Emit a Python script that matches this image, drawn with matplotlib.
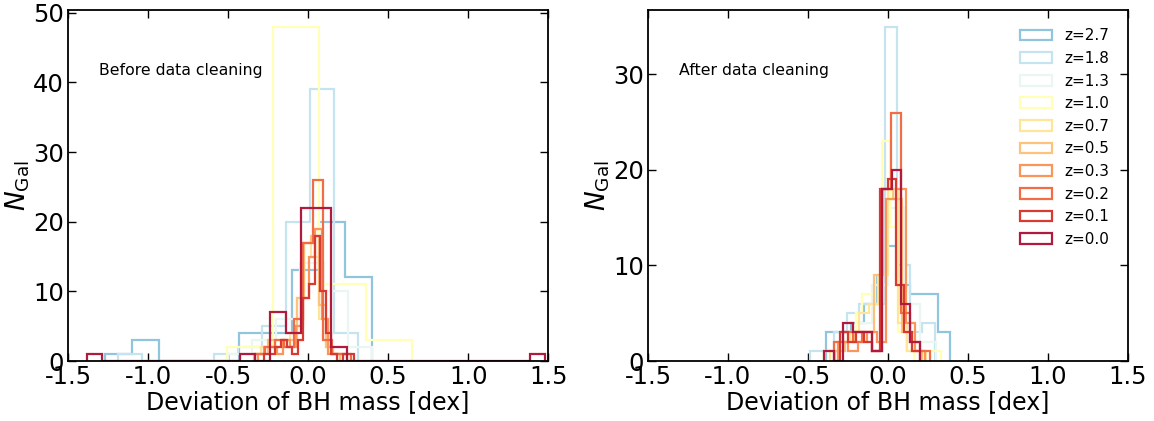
import numpy as np
import matplotlib
matplotlib.use("Agg")
import matplotlib.pyplot as plt

redshift_labels = ["z=2.7", "z=1.8", "z=1.3", "z=1.0", "z=0.7", "z=0.5", "z=0.3", "z=0.2", "z=0.1", "z=0.0"]
line_colors = ["#91c5de", "#c6e4f0", "#eaf6f2", "#ffffb8", "#fee59a", "#fdc37c", "#fc955a",
               "#f26c45", "#d73a30", "#b01a3c"]

# ---- before cleaning: bin edges and counts per redshift ----
before_z27_edges = [-1.27, -1.10, -0.93, -0.77, -0.60, -0.43, -0.27, -0.10, 0.07, 0.23, 0.40]
before_z27_counts = [1, 3, 0, 0, 0, 4, 4, 13, 20, 12]
before_z18_edges = [-1.19, -1.04, -0.89, -0.74, -0.59, -0.44, -0.29, -0.14, 0.01, 0.16, 0.31]
before_z18_counts = [1, 0, 0, 0, 1, 2, 5, 20, 39, 4]
before_z13_edges = [-0.50, -0.35, -0.20, -0.05, 0.10, 0.25, 0.40]
before_z13_counts = [1, 3, 6, 14, 10, 2]
before_z10_edges = [-0.51, -0.22, 0.07, 0.36, 0.65]
before_z10_counts = [2, 48, 11, 3]
before_z07_edges = [-0.34, -0.295, -0.25, -0.205, -0.16, -0.115, -0.07, -0.025, 0.02, 0.065, 0.11, 0.155, 0.20]
before_z07_counts = [1, 2, 2, 3, 2, 4, 9, 17, 15, 6, 2, 1]
before_z05_edges = [-0.34, -0.295, -0.25, -0.205, -0.16, -0.115, -0.07, -0.025, 0.02, 0.065, 0.11, 0.155, 0.20]
before_z05_counts = [1, 1, 3, 2, 3, 3, 9, 17, 18, 8, 2, 1]
before_z03_edges = [-0.315, -0.275, -0.235, -0.195, -0.155, -0.115, -0.075, -0.035, 0.005, 0.045, 0.085, 0.125, 0.165, 0.205, 0.245]
before_z03_counts = [1, 2, 2, 1, 3, 2, 5, 9, 15, 19, 6, 1, 1, 1]
before_z02_edges = [-0.33, -0.27, -0.21, -0.15, -0.09, -0.03, 0.03, 0.09, 0.15, 0.21, 0.27]
before_z02_counts = [1, 2, 3, 2, 6, 17, 26, 3, 1, 1]
before_z01_edges = [-0.275, -0.24, -0.205, -0.17, -0.135, -0.10, -0.065, -0.03, 0.005, 0.04, 0.075, 0.11, 0.145, 0.18, 0.215, 0.25, 0.285]
before_z01_counts = [1, 1, 2, 3, 2, 1, 3, 9, 11, 18, 10, 4, 1, 0, 1, 1]
before_z00_edges = [-1.380, -1.285, -1.189, -1.094, -0.999, -0.904, -0.808, -0.713, -0.618, -0.522,
                    -0.427, -0.332, -0.237, -0.141, -0.046, 0.050, 0.145, 0.240, 0.336, 0.431,
                    0.526, 0.622, 0.717, 0.812, 0.908, 1.003, 1.098, 1.194, 1.289, 1.384, 1.480]
before_z00_counts = [1, 0, 0, 0, 0, 0, 0, 0, 0, 0, 1, 0, 7, 4, 22, 22, 2, 0, 0, 0, 0, 0, 0, 0, 0, 0, 0, 0, 0, 1]

# ---- after cleaning ----
after_z27_edges = [-0.39, -0.31, -0.23, -0.15, -0.07, -0.006, 0.056, 0.14, 0.22, 0.31, 0.39]
after_z27_counts = [3, 3, 4, 6, 9, 12, 8, 7, 7, 3]
after_z18_edges = [-0.49, -0.41, -0.335, -0.257, -0.18, -0.10, -0.02, 0.058, 0.136, 0.214, 0.292]
after_z18_counts = [1, 1, 3, 5, 6, 6, 35, 10, 3, 4]
after_z13_edges = [-0.40, -0.30, -0.20, -0.10, 0.0, 0.10, 0.20, 0.30]
after_z13_counts = [1, 2, 4, 8, 16, 6, 2]
after_z10_edges = [-0.40, -0.35, -0.30, -0.25, -0.20, -0.16, -0.09, -0.035, 0.012, 0.06, 0.11, 0.16, 0.22, 0.33]
after_z10_counts = [1, 1, 2, 3, 5, 7, 6, 23, 14, 3, 1, 0, 1]
after_z07_edges = [-0.36, -0.30, -0.24, -0.18, -0.12, -0.06, 0.0, 0.06, 0.12, 0.18, 0.24]
after_z07_counts = [1, 2, 3, 5, 6, 9, 18, 4, 1, 1]
after_z05_edges = [-0.33, -0.27, -0.21, -0.15, -0.09, -0.03, 0.03, 0.09, 0.15, 0.21]
after_z05_counts = [1, 2, 3, 3, 9, 18, 17, 3, 1]
after_z03_edges = [-0.31, -0.25, -0.19, -0.13, -0.07, -0.01, 0.05, 0.11, 0.17, 0.23]
after_z03_counts = [2, 1, 2, 3, 2, 17, 18, 4, 1]
after_z02_edges = [-0.34, -0.28, -0.22, -0.16, -0.10, -0.04, 0.02, 0.08, 0.14, 0.20, 0.26]
after_z02_counts = [2, 3, 2, 3, 1, 18, 26, 5, 2, 1]
after_z01_edges = [-0.30, -0.25, -0.20, -0.15, -0.10, -0.05, 0.0, 0.05, 0.10, 0.15, 0.20]
after_z01_counts = [3, 2, 3, 2, 1, 18, 19, 8, 3, 1]
after_z00_edges = [-0.40, -0.34, -0.28, -0.22, -0.16, -0.10, -0.04, 0.023, 0.081, 0.14, 0.20]
after_z00_counts = [1, 0, 4, 3, 3, 1, 18, 20, 6, 2]

before_series = [
    (before_z27_edges, before_z27_counts), (before_z18_edges, before_z18_counts),
    (before_z13_edges, before_z13_counts), (before_z10_edges, before_z10_counts),
    (before_z07_edges, before_z07_counts), (before_z05_edges, before_z05_counts),
    (before_z03_edges, before_z03_counts), (before_z02_edges, before_z02_counts),
    (before_z01_edges, before_z01_counts), (before_z00_edges, before_z00_counts),
]
after_series = [
    (after_z27_edges, after_z27_counts), (after_z18_edges, after_z18_counts),
    (after_z13_edges, after_z13_counts), (after_z10_edges, after_z10_counts),
    (after_z07_edges, after_z07_counts), (after_z05_edges, after_z05_counts),
    (after_z03_edges, after_z03_counts), (after_z02_edges, after_z02_counts),
    (after_z01_edges, after_z01_counts), (after_z00_edges, after_z00_counts),
]

fig = plt.figure(figsize=(11.54, 4.21), dpi=100)
ax_before = fig.add_axes([0.059, 0.1425, 0.416, 0.834])
ax_after = fig.add_axes([0.5615, 0.1425, 0.416, 0.834])


def draw_panel(ax, series, title):
    for (edges, counts), color, label in zip(series, line_colors, redshift_labels):
        edges = np.asarray(edges, dtype=float)
        centers = 0.5 * (edges[:-1] + edges[1:])
        ax.hist(centers, bins=edges, weights=counts, histtype="step",
                color=color, lw=1.6, label=label)
    ax.set_xlim(-1.5, 1.5)
    ax.set_xticks([-1.5, -1.0, -0.5, 0.0, 0.5, 1.0, 1.5])
    ax.set_xticklabels(["-1.5", "-1.0", "-0.5", "0.0", "0.5", "1.0", "1.5"])
    ax.tick_params(direction="in", top=True, right=True, labelsize=17.5, length=6, width=1,
                   pad=3)
    ax.set_xlabel("Deviation of BH mass [dex]", fontsize=17, labelpad=1)
    ax.set_ylabel(r"$N_{\rm Gal}$", fontsize=19, labelpad=1)
    ax.text(0.065, 0.815, title, transform=ax.transAxes, fontsize=11.3)
    for sp in ax.spines.values():
        sp.set_linewidth(1.3)


draw_panel(ax_before, before_series, "Before data cleaning")
draw_panel(ax_after, after_series, "After data cleaning")
ax_before.set_yticks([0, 10, 20, 30, 40, 50])
ax_after.set_yticks([0, 10, 20, 30])

ax_after.legend(loc="upper right", frameon=False, fontsize=11, handlelength=2.15,
                labelspacing=0.5, borderaxespad=0.8)

fig.savefig("out.png", dpi=100)
